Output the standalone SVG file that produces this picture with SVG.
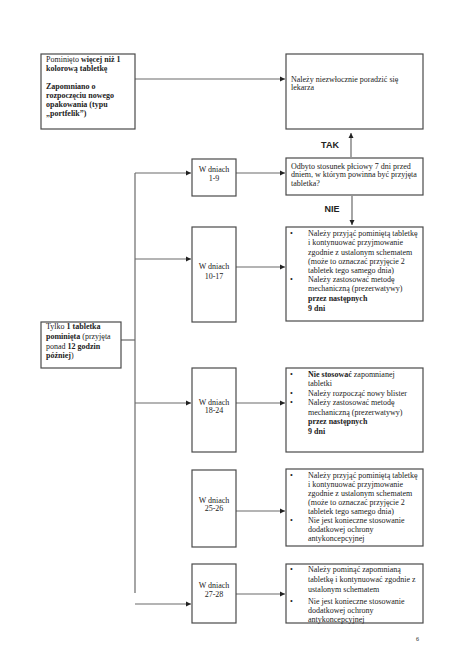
<svg xmlns="http://www.w3.org/2000/svg" width="474" height="669" viewBox="0 0 474 669">
<style>
.box{fill:#fff;stroke:#4a4a4a;stroke-width:1.2}
.ln{fill:none;stroke:#6a6a6a;stroke-width:1.2}
text{font-family:"Liberation Serif","Times New Roman",serif;font-size:8px;fill:#222}
.b{font-weight:bold}
.c{text-anchor:middle}
.lbl{font-family:"Liberation Sans",Arial,sans-serif;font-weight:bold;font-size:9px;text-anchor:middle}
</style>
<defs>
<marker id="ah" markerWidth="6" markerHeight="6" refX="5" refY="3" orient="auto" markerUnits="userSpaceOnUse">
<path d="M0,0.5 L5,3 L0,5.5 Z" fill="#222"/>
</marker>
</defs>
<rect width="474" height="669" fill="#fff"/>

<g id="connectors">
<line class="ln" x1="135" y1="79" x2="285" y2="79" marker-end="url(#ah)"/>
<line class="ln" x1="351" y1="157" x2="351" y2="133" marker-end="url(#ah)"/>
<line class="ln" x1="352" y1="196" x2="352" y2="225" marker-end="url(#ah)"/>
<line class="ln" x1="135" y1="173" x2="135" y2="593"/>
<line class="ln" x1="121" y1="340" x2="135" y2="340"/>
<line class="ln" x1="135" y1="173" x2="191" y2="173" marker-end="url(#ah)"/>
<line class="ln" x1="236" y1="173" x2="285" y2="173" marker-end="url(#ah)"/>
<line class="ln" x1="135" y1="259" x2="191" y2="259" marker-end="url(#ah)"/>
<line class="ln" x1="236" y1="267" x2="285" y2="267" marker-end="url(#ah)"/>
<line class="ln" x1="135" y1="403" x2="191" y2="403" marker-end="url(#ah)"/>
<line class="ln" x1="236" y1="403" x2="285" y2="403" marker-end="url(#ah)"/>
<line class="ln" x1="236" y1="511" x2="285" y2="511" marker-end="url(#ah)"/>
<line class="ln" x1="135" y1="604" x2="191" y2="604" marker-end="url(#ah)"/>
<line class="ln" x1="236" y1="594" x2="285" y2="594" marker-end="url(#ah)"/>
<text class="lbl" x="330" y="147.5">TAK</text>
<text class="lbl" x="332" y="211.5">NIE</text>
</g>

<g id="n-more">
<rect class="box" x="41" y="54" width="94" height="75"/>
<text x="46" y="62">Pominięto <tspan class="b">więcej niż 1</tspan></text>
<text x="46" y="71" class="b">kolorową tabletkę</text>
<text x="46" y="89" class="b">Zapomniano o</text>
<text x="46" y="98" class="b">rozpoczęciu nowego</text>
<text x="46" y="107" class="b">opakowania (typu</text>
<text x="46" y="116" class="b">„portfelik”)</text>
</g>

<g id="n-doctor">
<rect class="box" x="286" y="54" width="137" height="75"/>
<text x="291" y="82">Należy niezwłocznie poradzić się</text>
<text x="291" y="90">lekarza</text>
</g>

<g id="n-question">
<rect class="box" x="286" y="158" width="137" height="37"/>
<text x="291" y="168.5">Odbyto stosunek płciowy 7 dni przed</text>
<text x="291" y="177">dniem, w którym powinna być przyjęta</text>
<text x="291" y="185.5">tabletka?</text>
</g>

<g id="n-one">
<rect class="box" x="41" y="322" width="80" height="46"/>
<text x="46" y="329">Tylko <tspan class="b">1 tabletka</tspan></text>
<text x="46" y="339"><tspan class="b">pominięta</tspan> (przyjęta</text>
<text x="46" y="348.5">ponad <tspan class="b">12 godzin</tspan></text>
<text x="46" y="357.5"><tspan class="b">później</tspan>)</text>
</g>

<g id="d1-9">
<rect class="box" x="192" y="159" width="44" height="37"/>
<text class="c" x="214" y="171.5">W dniach</text>
<text class="c" x="214" y="180.5">1-9</text>
</g>

<g id="d10-17">
<rect class="box" x="192" y="227" width="44" height="95"/>
<text class="c" x="214" y="268.5">W dniach</text>
<text class="c" x="214" y="279">10-17</text>
</g>

<g id="a10-17">
<rect class="box" x="286" y="227" width="137" height="94"/>
<text x="290" y="236">•</text>
<text x="308" y="236">Należy przyjąć pominiętą tabletkę</text>
<text x="308" y="245">i kontynuować przyjmowanie</text>
<text x="308" y="254.5">zgodnie z ustalonym schematem</text>
<text x="308" y="263.5">(może to oznaczać przyjęcie 2</text>
<text x="308" y="272.5">tabletek tego samego dnia)</text>
<text x="290" y="282">•</text>
<text x="308" y="282">Należy zastosować metodę</text>
<text x="308" y="291">mechaniczną (prezerwatywy)</text>
<text x="308" y="301" class="b">przez następnych</text>
<text x="308" y="311" class="b">9 dni</text>
</g>

<g id="d18-24">
<rect class="box" x="192" y="368" width="44" height="84"/>
<text class="c" x="214" y="404.5">W dniach</text>
<text class="c" x="214" y="413">18-24</text>
</g>

<g id="a18-24">
<rect class="box" x="286" y="368" width="137" height="84"/>
<text x="290" y="377">•</text>
<text x="308" y="377"><tspan class="b">Nie stosować</tspan> zapomnianej</text>
<text x="308" y="386">tabletki</text>
<text x="290" y="396">•</text>
<text x="308" y="396">Należy rozpocząć nowy blister</text>
<text x="290" y="405">•</text>
<text x="308" y="405">Należy zastosować metodę</text>
<text x="308" y="414.5">mechaniczną (prezerwatywy)</text>
<text x="308" y="424" class="b">przez następnych</text>
<text x="308" y="433.5" class="b">9 dni</text>
</g>

<g id="d25-26">
<rect class="box" x="192" y="470" width="44" height="77"/>
<text class="c" x="214" y="502.5">W dniach</text>
<text class="c" x="214" y="510.5">25-26</text>
</g>

<g id="a25-26">
<rect class="box" x="286" y="469" width="137" height="77"/>
<text x="290" y="478">•</text>
<text x="308" y="478">Należy przyjąć pominiętą tabletkę</text>
<text x="308" y="487">i kontynuować przyjmowanie</text>
<text x="308" y="496">zgodnie z ustalonym schematem</text>
<text x="308" y="505">(może to oznaczać przyjęcie 2</text>
<text x="308" y="514">tabletek tego samego dnia)</text>
<text x="290" y="523">•</text>
<text x="308" y="523">Nie jest konieczne stosowanie</text>
<text x="308" y="532">dodatkowej ochrony</text>
<text x="308" y="541">antykoncepcyjnej</text>
</g>

<g id="d27-28">
<rect class="box" x="192" y="564" width="44" height="59"/>
<text class="c" x="214" y="587.5">W dniach</text>
<text class="c" x="214" y="597">27-28</text>
</g>

<g id="a27-28">
<rect class="box" x="286" y="564" width="137" height="59"/>
<text x="290" y="572">•</text>
<text x="308" y="572">Należy pominąć zapomnianą</text>
<text x="308" y="582">tabletkę i kontynuować zgodnie z</text>
<text x="308" y="592">ustalonym schematem</text>
<text x="290" y="604">•</text>
<text x="308" y="604">Nie jest konieczne stosowanie</text>
<text x="308" y="613">dodatkowej ochrony</text>
<text x="308" y="622">antykoncepcyjnej</text>
</g>

<text x="416" y="641" style="font-size:6px">6</text>
</svg>
